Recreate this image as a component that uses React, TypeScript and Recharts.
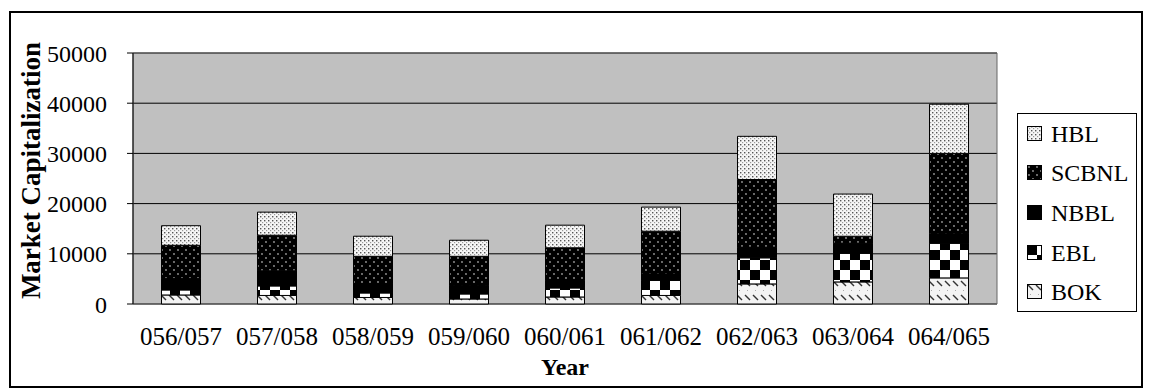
import React from 'react';
import { BarChart, Bar, XAxis, YAxis, CartesianGrid, Legend, ReferenceArea } from 'recharts';

// Market capitalization by bank and fiscal year
const years = ['056/057', '057/058', '058/059', '059/060', '060/061', '061/062', '062/063', '063/064', '064/065'];
const BOK = [1800, 1700, 1300, 1000, 1400, 1700, 4000, 4400, 5200];
const EBL = [1000, 1900, 900, 1000, 1800, 3000, 5200, 5700, 6900];
const NBBL = [2300, 3000, 1800, 1700, 1500, 1300, 2100, 2000, 1900];
const SCBNL = [6600, 7100, 5500, 5800, 6500, 8500, 13500, 1400, 16000];
const HBL = [3900, 4600, 4000, 3200, 4500, 4800, 8600, 8400, 9800];
const yTicks = [0, 10000, 20000, 30000, 40000, 50000];

// bottom-to-top stacking order
const seriesNames = ['BOK', 'EBL', 'NBBL', 'SCBNL', 'HBL'];
const seriesValues: Record<string, number[]> = { BOK, EBL, NBBL, SCBNL, HBL };

const data = years.map((year, i) => {
  const row: Record<string, string | number> = { year, idx: i + 0.5 };
  seriesNames.forEach((s) => {
    row[s] = seriesValues[s][i];
  });
  return row;
});

const boundaryTicks = years.map((_, i) => i).concat([years.length]);

const FONT = "'Liberation Serif', 'Times New Roman', serif";

const Patterns = () => (
  <defs>
    <pattern id="pat-HBL" width="4" height="4" patternUnits="userSpaceOnUse">
      <rect width="4" height="4" fill="#f6f6f6" />
      <rect x="0" y="0" width="1.4" height="1.4" fill="#555" />
      <rect x="2" y="2" width="1.2" height="1.2" fill="#999" />
    </pattern>
    <pattern id="pat-SCBNL" width="8" height="8" patternUnits="userSpaceOnUse">
      <rect width="8" height="8" fill="#000" />
      <circle cx="2" cy="2" r="0.9" fill="#9a9a9a" />
      <circle cx="6" cy="6" r="0.9" fill="#9a9a9a" />
    </pattern>
    <pattern id="pat-NBBL" width="4" height="4" patternUnits="userSpaceOnUse">
      <rect width="4" height="4" fill="#000" />
    </pattern>
    <pattern id="pat-EBL" width="20" height="20" patternUnits="userSpaceOnUse">
      <rect width="20" height="20" fill="#fff" />
      <rect x="0" y="0" width="10" height="10" fill="#000" />
      <rect x="10" y="10" width="10" height="10" fill="#000" />
    </pattern>
    <pattern id="pat-BOK" width="8" height="14" patternUnits="userSpaceOnUse">
      <rect width="8" height="14" fill="#f3f3f3" />
      <line x1="1" y1="1" x2="6" y2="6" stroke="#333" strokeWidth="1.4" />
      <rect x="3" y="10" width="1" height="1" fill="#aaa" />
    </pattern>
  </defs>
);

const legendOrder = ['HBL', 'SCBNL', 'NBBL', 'EBL', 'BOK'];

const LegendBox = () => (
  <div
    style={{
      width: 120,
      height: 199,
      border: '1px solid #000',
      boxSizing: 'border-box',
      background: '#fff',
      fontFamily: FONT,
    }}
  >
    {legendOrder.map((s) => (
      <div key={s} style={{ display: 'flex', alignItems: 'center', height: 39.6, paddingLeft: 9 }}>
        <svg width={16} height={16} style={{ display: 'block' }}>
          <rect x={0.5} y={0.5} width={14} height={14} fill={`url(#pat-${s})`} stroke="#000" />
        </svg>
        <span style={{ marginLeft: 8, fontSize: 24, color: '#000', lineHeight: '24px' }}>{s}</span>
      </div>
    ))}
  </div>
);

const YTitle = (props: any) => {
  const vb = props.viewBox || { x: 0, y: 0, width: 0, height: 0 };
  const cx = vb.x + 40;
  const cy = vb.y + vb.height / 2 - 8;
  return (
    <text
      x={cx}
      y={cy}
      transform={`rotate(-90, ${cx}, ${cy})`}
      textAnchor="middle"
      fontFamily={FONT}
      fontWeight="bold"
      fontSize={27}
      fill="#000"
    >
      Market Capitalization
    </text>
  );
};

const XTitle = (props: any) => {
  const vb = props.viewBox || { x: 0, y: 0, width: 0, height: 0 };
  return (
    <text
      x={vb.x + vb.width / 2}
      y={vb.y + 71}
      textAnchor="middle"
      fontFamily={FONT}
      fontWeight="bold"
      fontSize={24}
      fill="#000"
    >
      Year
    </text>
  );
};

export default function App() {
  return (
    <div style={{ position: 'absolute', left: 0, top: 0, width: 1150, height: 389, background: '#fff', fontFamily: FONT }}>
      <BarChart
        width={1150}
        height={389}
        data={data}
        margin={{ top: 53, right: 153, bottom: 0, left: 0 }}
        barCategoryGap="29.7%"
      >
        <Patterns />
        <CartesianGrid vertical={false} stroke="#000" fill="#c0c0c0" fillOpacity={1} />
        <XAxis
          xAxisId="bounds"
          type="number"
          dataKey="idx"
          domain={[0, years.length]}
          ticks={boundaryTicks}
          tick={false}
          tickSize={7}
          height={0}
          axisLine={{ stroke: '#000' }}
          tickLine={{ stroke: '#000' }}
        />
        <XAxis
          dataKey="year"
          height={85}
          tickSize={0}
          tickMargin={23}
          axisLine={false}
          tickLine={false}
          interval={0}
          tick={{ fill: '#000', fontSize: 25, fontFamily: FONT }}
          label={<XTitle />}
        />
        <YAxis
          width={133}
          domain={[0, 50000]}
          ticks={yTicks}
          interval={0}
          tickSize={6}
          tickMargin={20}
          axisLine={{ stroke: '#000' }}
          tickLine={{ stroke: '#000' }}
          tick={{ fill: '#000', fontSize: 24, fontFamily: FONT }}
          label={<YTitle />}
        />
        <ReferenceArea
          xAxisId="bounds"
          x1={0}
          x2={years.length}
          y1={0}
          y2={50000}
          fill="none"
          stroke="#666"
          strokeWidth={1}
          ifOverflow="extendDomain"
        />
        {seriesNames.map((s) => (
          <Bar
            key={s}
            dataKey={s}
            stackId="cap"
            fill={`url(#pat-${s})`}
            stroke="#000"
            strokeWidth={1}
            isAnimationActive={false}
          />
        ))}
        <Legend
          layout="vertical"
          align="center"
          verticalAlign="middle"
          content={<LegendBox />}
          wrapperStyle={{ left: 1017, top: 113, width: 120, height: 199 }}
        />
      </BarChart>
      <div
        style={{
          position: 'absolute',
          left: 9,
          top: 11,
          width: 1134,
          height: 377,
          border: '2px solid #000',
          boxSizing: 'border-box',
          pointerEvents: 'none',
        }}
      />
    </div>
  );
}
